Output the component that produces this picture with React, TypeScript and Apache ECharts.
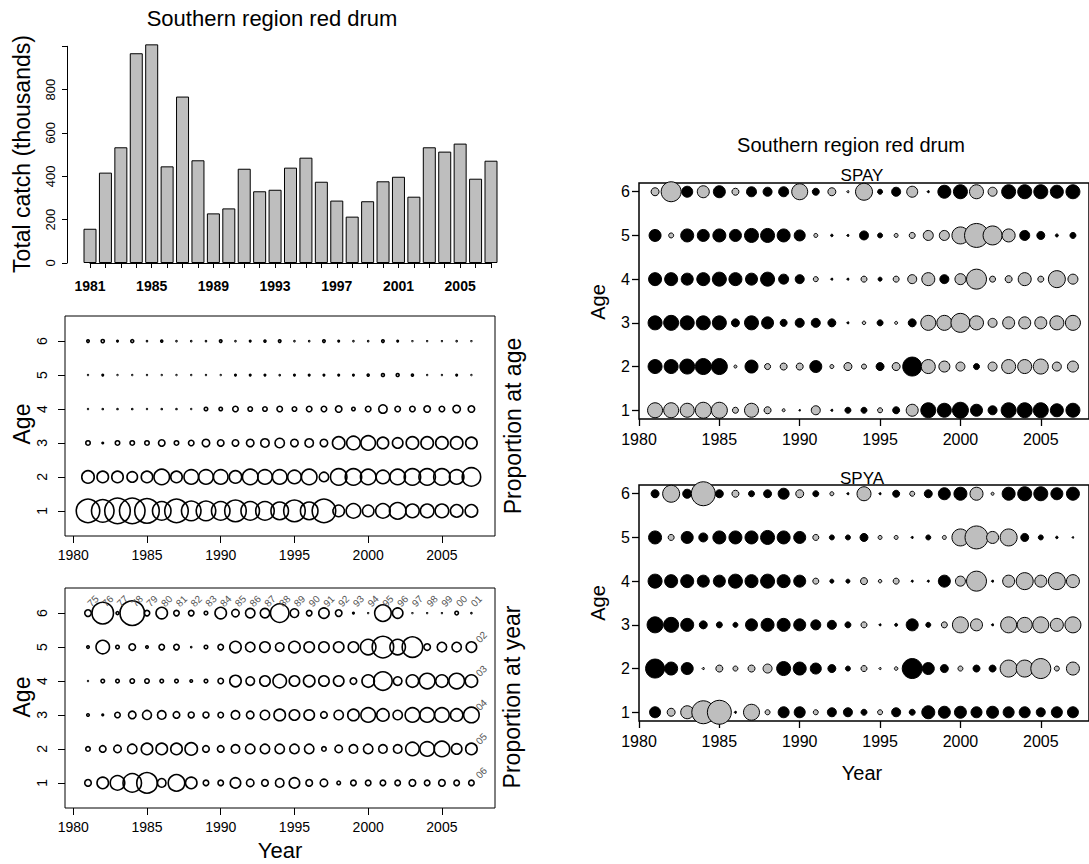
import React, { useEffect, useRef } from "react";
import * as echarts from "echarts";

const FONT = '"Liberation Sans", Arial, Helvetica, sans-serif';

const years = [1981, 1982, 1983, 1984, 1985, 1986, 1987, 1988, 1989, 1990, 1991, 1992, 1993, 1994, 1995, 1996, 1997, 1998, 1999, 2000, 2001, 2002, 2003, 2004, 2005, 2006, 2007];
const ages = [1, 2, 3, 4, 5, 6];

// Total catch (thousands)
const totalCatch = [158, 417, 534, 968, 1009, 446, 768, 474, 229, 252, 435, 331, 338, 440, 486, 375, 288, 214, 285, 377, 398, 306, 534, 514, 551, 389, 472];
const barLabelYears = [1981, 1985, 1989, 1993, 1997, 2001, 2005];
const catchTicks = [0, 200, 400, 600, 800];

// Proportion at age (rows sum across ages within a year)
const paaAge1 = [0.694, 0.64, 0.81, 0.81, 0.751, 0.444, 0.694, 0.49, 0.49, 0.444, 0.588, 0.444, 0.444, 0.401, 0.588, 0.401, 0.694, 0.188, 0.284, 0.188, 0.284, 0.36, 0.25, 0.25, 0.25, 0.218, 0.218];
const paaAge2 = [0.218, 0.188, 0.188, 0.16, 0.188, 0.321, 0.188, 0.284, 0.284, 0.284, 0.218, 0.321, 0.284, 0.284, 0.25, 0.321, 0.134, 0.36, 0.36, 0.321, 0.25, 0.321, 0.36, 0.36, 0.36, 0.284, 0.444];
const paaAge3 = [0.04, 0.01, 0.04, 0.04, 0.04, 0.071, 0.04, 0.054, 0.09, 0.071, 0.071, 0.09, 0.111, 0.134, 0.09, 0.111, 0.09, 0.218, 0.25, 0.284, 0.188, 0.16, 0.218, 0.218, 0.218, 0.218, 0.188];
const paaAge4 = [0.0025, 0.007, 0.007, 0.007, 0.004, 0.007, 0.007, 0.004, 0.028, 0.028, 0.054, 0.04, 0.04, 0.054, 0.04, 0.054, 0.054, 0.071, 0.028, 0.054, 0.111, 0.054, 0.054, 0.071, 0.054, 0.09, 0.071];
const paaAge5 = [0.004, 0.01, 0.004, 0.004, 0.004, 0.004, 0.004, 0.004, 0.004, 0.004, 0.01, 0.01, 0.01, 0.007, 0.01, 0.01, 0.01, 0.01, 0.01, 0.014, 0.022, 0.022, 0.014, 0.004, 0.004, 0.01, 0.004];
const paaAge6 = [0.018, 0.025, 0.01, 0.022, 0.007, 0.014, 0.007, 0.007, 0.007, 0.018, 0.007, 0.01, 0.014, 0.018, 0.007, 0.007, 0.018, 0.01, 0.007, 0.007, 0.018, 0.01, 0.004, 0.004, 0.004, 0.007, 0.004];

// Proportion at year (rows sum across years within an age)
const payAge1 = [0.02, 0.052, 0.079, 0.123, 0.149, 0.031, 0.1, 0.052, 0.015, 0.015, 0.044, 0.025, 0.02, 0.031, 0.044, 0.02, 0.025, 0.008, 0.015, 0.015, 0.015, 0.015, 0.02, 0.015, 0.02, 0.015, 0.015];
const payAge2 = [0.011, 0.02, 0.025, 0.037, 0.052, 0.052, 0.052, 0.06, 0.02, 0.02, 0.031, 0.037, 0.037, 0.037, 0.037, 0.037, 0.011, 0.025, 0.031, 0.037, 0.031, 0.031, 0.069, 0.079, 0.089, 0.044, 0.052];
const payAge3 = [0.005, 0.003, 0.015, 0.025, 0.034, 0.031, 0.02, 0.017, 0.017, 0.015, 0.031, 0.025, 0.037, 0.052, 0.044, 0.044, 0.02, 0.037, 0.052, 0.079, 0.06, 0.037, 0.079, 0.079, 0.079, 0.06, 0.089];
const payAge4 = [0.001, 0.008, 0.008, 0.011, 0.011, 0.008, 0.008, 0.005, 0.008, 0.015, 0.052, 0.031, 0.044, 0.069, 0.044, 0.052, 0.044, 0.044, 0.02, 0.06, 0.123, 0.031, 0.06, 0.089, 0.06, 0.089, 0.06];
const payAge5 = [0.005, 0.069, 0.008, 0.02, 0.005, 0.015, 0.015, 0.002, 0.008, 0.015, 0.052, 0.037, 0.044, 0.031, 0.052, 0.044, 0.044, 0.044, 0.044, 0.089, 0.163, 0.089, 0.149, 0.02, 0.037, 0.037, 0.044];
const payAge6 = [0.02, 0.163, 0.006, 0.208, 0.015, 0.052, 0.015, 0.015, 0.008, 0.052, 0.025, 0.037, 0.037, 0.123, 0.031, 0.015, 0.044, 0.02, 0.003, 0.001, 0.1, 0.044, 0.001, 0.001, 0.001, 0.008, 0.002];

// Cohort labels
const cohortTop = ["75", "76", "77", "78", "79", "80", "81", "82", "83", "84", "85", "86", "87", "88", "89", "90", "91", "92", "93", "94", "95", "96", "97", "98", "99", "00", "01"];
const cohortRight = ["06", "05", "04", "03", "02"]; // ages 1..5 in 2007

// Standardized residuals (positive = black, negative = grey)
const spayAge1 = [-3.2, -3.2, -3.0, -3.4, -3.4, -1.4, -3.0, -1.6, -0.8, 0.5, -2.0, 0.6, 1.4, 1.4, -1.2, 1.6, -2.6, 3.2, 3.0, 3.4, 2.6, 2.0, 3.2, 3.2, 3.2, 2.8, 3.0];
const spayAge2 = [3.0, 3.0, 3.2, 3.4, 3.4, -0.8, 2.8, -1.4, -1.6, -1.6, 2.6, -1.0, -1.8, -1.2, 1.8, -1.8, 4.0, -3.0, -2.4, -2.0, 1.4, -2.0, -3.0, -3.0, -3.2, -2.0, -2.4];
const spayAge3 = [3.0, 3.2, 3.0, 3.0, 3.0, 1.8, 3.0, 2.6, 1.6, 2.0, 2.0, 1.8, 0.6, -0.9, 1.4, -0.8, 1.8, -3.2, -3.2, -4.0, -3.0, -2.0, -2.6, -2.6, -2.6, -3.0, -3.2];
const spayAge4 = [2.8, 2.8, 2.6, 2.8, 3.0, 2.8, 2.6, 3.0, 2.2, 2.0, -1.2, 0.6, 0.6, -1.4, 1.0, -1.4, -2.0, -2.8, 2.0, -2.4, -4.2, -1.4, -1.6, -2.8, -1.4, -3.6, -2.2];
const spayAge5 = [2.6, -1.2, 2.8, 2.6, 2.8, 2.6, 3.0, 3.0, 2.8, 2.4, -1.0, 0.7, 0.6, 2.0, 1.2, -1.0, -1.4, -2.2, -2.2, -3.6, -5.0, -4.0, -2.8, 2.2, 1.8, 0.8, 1.4];
const spayAge6 = [-1.8, -4.2, 2.4, -2.6, 2.6, -1.6, 2.2, 2.0, 2.2, -3.4, 1.6, -1.8, -0.6, -3.6, 1.2, 2.0, -2.4, 0.6, 2.8, 3.0, -3.0, -2.0, 3.0, 3.0, 3.0, 2.8, 3.0];

const spyaAge1 = [2.4, -1.8, -2.8, -4.8, -5.0, 0.6, -3.4, -1.2, 2.4, 2.4, -1.2, 2.0, 2.0, 1.4, -1.2, 2.0, 1.4, 2.8, 2.6, 2.6, 2.4, 2.6, 2.4, 2.4, 2.0, 2.4, 2.4];
const spyaAge2 = [4.0, 2.8, 2.6, -0.6, -1.6, -1.2, -1.6, -2.0, 3.0, 2.8, 2.4, 1.8, 1.2, -1.4, -0.6, -0.9, 4.2, 2.6, 1.8, -1.2, 1.6, 1.6, -3.6, -3.6, -4.2, -1.2, -2.8];
const spyaAge3 = [3.4, 3.2, 2.8, 1.8, 1.4, 1.2, 2.6, 2.8, 2.8, 2.6, 2.2, 2.0, 1.4, -1.4, 0.6, 0.8, 2.6, 1.2, -1.4, -3.4, -2.6, 0.6, -3.4, -3.2, -3.4, -2.8, -3.4];
const spyaAge4 = [3.0, 2.8, 2.8, 2.6, 2.6, 3.0, 2.8, 3.0, 2.8, 2.6, -1.4, 1.0, 1.0, -1.6, -0.9, -1.4, 0.6, 0.6, 2.6, -2.2, -4.2, 0.6, -2.6, -3.6, -2.6, -3.6, -2.8];
const spyaAge5 = [2.8, -1.4, 2.6, 2.0, 2.8, 2.8, 2.8, 3.0, 2.8, 2.6, -1.4, 1.2, 1.2, 1.8, -1.0, -1.0, 0.6, 1.2, -1.0, -3.6, -4.8, -2.6, -3.6, 1.8, 1.2, 0.7, 0.5];
const spyaAge6 = [1.8, -3.6, 2.0, -5.0, 1.8, -1.6, 1.4, 1.8, 2.4, -1.8, 1.4, -1.0, 0.6, -3.0, 0.6, 1.6, -1.2, 1.8, 2.6, 2.8, -2.8, -0.8, 2.8, 3.0, 3.0, 2.6, 2.8];

const axisYearTicks = [1980, 1985, 1990, 1995, 2000, 2005];

const paaRows = [paaAge1, paaAge2, paaAge3, paaAge4, paaAge5, paaAge6];
const payRows = [payAge1, payAge2, payAge3, payAge4, payAge5, payAge6];
const spayRows = [spayAge1, spayAge2, spayAge3, spayAge4, spayAge5, spayAge6];
const spyaRows = [spyaAge1, spyaAge2, spyaAge3, spyaAge4, spyaAge5, spyaAge6];

function propData(rows: number[][]) {
  const out: number[][] = [];
  rows.forEach((row, ai) => row.forEach((p, yi) => out.push([years[yi], ages[ai], p])));
  return out;
}
function residData(rows: number[][]) {
  const out: any[] = [];
  years.forEach((y, yi) =>
    rows.forEach((row, ai) => {
      const v = row[yi];
      out.push({
        value: [y, ages[ai], v],
        itemStyle: { color: v > 0 ? "#000000" : "#bebebe", borderColor: "#000000", borderWidth: 1, opacity: 1 },
      });
    })
  );
  return out;
}

const txt = "#000";
const plain = (v: number) => String(v);

function leftXAxis(gridIndex: number) {
  return {
    gridIndex, type: "value", min: 1979.44, max: 2008.6,
    axisLine: { show: false },
    axisTick: { show: true, customValues: axisYearTicks, length: 7, lineStyle: { color: "#000" } },
    axisLabel: { customValues: axisYearTicks, formatter: plain, fontSize: 14, fontFamily: FONT, color: txt, margin: 12 },
    splitLine: { show: false },
  };
}
function leftYAxis(gridIndex: number) {
  return {
    gridIndex, type: "value", min: 0.26, max: 6.74,
    axisLine: { show: false },
    axisTick: { show: true, customValues: ages, length: 7, lineStyle: { color: "#000" } },
    axisLabel: { customValues: ages, formatter: plain, rotate: 90, fontSize: 14, fontFamily: FONT, color: txt, margin: 16 },
    splitLine: { show: false },
  };
}
function rightXAxis(gridIndex: number) {
  return {
    gridIndex, type: "value", min: 1980, max: 2008,
    axisLine: { show: false },
    axisTick: { show: true, customValues: axisYearTicks, length: 7, lineStyle: { color: "#000", width: 1.3 } },
    axisLabel: { customValues: axisYearTicks, formatter: plain, fontSize: 16, fontFamily: FONT, color: txt, margin: 12 },
    splitLine: { show: false },
  };
}
function rightYAxis(gridIndex: number) {
  return {
    gridIndex, type: "value", min: 0.8, max: 6.2,
    axisLine: { show: false },
    axisTick: { show: true, customValues: ages, length: 7, lineStyle: { color: "#000", width: 1.3 } },
    axisLabel: { customValues: ages, formatter: plain, fontSize: 16, fontFamily: FONT, color: txt, margin: 9 },
    splitLine: { show: false },
  };
}

function textEl(text: string, x: number, y: number, size: number, rotate = 0) {
  return {
    type: "text", x, y, rotation: rotate,
    style: { text, font: `${size}px ${FONT}`, fill: "#000", textAlign: "center", textVerticalAlign: "middle" },
  };
}

const cohortLabelStyle = {
  show: true, formatter: "{b}", fontSize: 10, fontFamily: FONT, color: "#555555",
  textBorderWidth: 0, textBorderColor: "rgba(0,0,0,0)", textShadowBlur: 0, opacity: 1,
  align: "center", verticalAlign: "middle", rotate: 45,
};

export default function App() {
  const ref = useRef<HTMLDivElement>(null);
  useEffect(() => {
    document.body.style.margin = "0";
    if (!ref.current) return;
    const chart = echarts.init(ref.current, null, { renderer: "svg" });

    const openCircle = { color: "rgba(0,0,0,0)", borderColor: "#000", borderWidth: 1.6, opacity: 1 };

    const option: any = {
      animation: false,
      backgroundColor: "#ffffff",
      grid: [
        { left: 90, right: 598, top: 46.3, bottom: 601 },
        { left: 65, right: 594, top: 316, bottom: 328, show: true, borderColor: "#000", borderWidth: 1 },
        { left: 65, right: 594, top: 588, bottom: 56, show: true, borderColor: "#000", borderWidth: 1 },
        { left: 639, right: -4, top: 183, bottom: 445, show: true, borderColor: "#000", borderWidth: 1.5 },
        { left: 639, right: -4, top: 485, bottom: 143, show: true, borderColor: "#000", borderWidth: 1.5 },
      ],
      xAxis: [
        {
          gridIndex: 0, type: "value", min: 1981, max: 2007, interval: 1, offset: 3,
          axisLine: { show: true, lineStyle: { color: "#000", width: 1 } },
          axisTick: { show: true, length: 5, lineStyle: { color: "#000" } },
          axisLabel: {
            formatter: (v: number) => (barLabelYears.indexOf(v) >= 0 ? String(v) : ""),
            fontSize: 14, fontWeight: "bold", fontFamily: FONT, color: txt, margin: 13,
          },
          splitLine: { show: false },
        },
        leftXAxis(1), leftXAxis(2), rightXAxis(3), rightXAxis(4),
      ],
      yAxis: [
        {
          gridIndex: 0, type: "value", min: 0, max: 1000, interval: 200, offset: 23,
          axisLine: { show: true, lineStyle: { color: "#000", width: 1 } },
          axisTick: { show: true, length: 5, lineStyle: { color: "#000" } },
          axisLabel: {
            formatter: (v: number) => (catchTicks.indexOf(v) >= 0 ? String(v) : ""),
            rotate: 90, fontSize: 13, fontFamily: FONT, color: txt, margin: 10,
          },
          splitLine: { show: false },
        },
        leftYAxis(1), leftYAxis(2), rightYAxis(3), rightYAxis(4),
      ],
      series: [
        {
          type: "bar", xAxisIndex: 0, yAxisIndex: 0, clip: false, barWidth: 13,
          data: years.map((y, i) => [y, totalCatch[i]]),
          itemStyle: { color: "#bebebe", borderColor: "#000", borderWidth: 1 },
        },
        {
          type: "scatter", xAxisIndex: 1, yAxisIndex: 1, clip: false,
          data: propData(paaRows),
          symbolSize: (v: number[]) => Math.max(30 * Math.sqrt(v[2]) - 1.5, 0.8),
          itemStyle: openCircle,
        },
        {
          type: "scatter", xAxisIndex: 2, yAxisIndex: 2, clip: false,
          data: propData(payRows),
          symbolSize: (v: number[]) => Math.max(57 * Math.sqrt(v[2]) - 1.5, 0.8),
          itemStyle: openCircle,
        },
        {
          type: "scatter", xAxisIndex: 2, yAxisIndex: 2, clip: false, silent: true,
          symbolSize: 0.1, itemStyle: { color: "rgba(0,0,0,0)", opacity: 1 },
          data: years.map((y, i) => ({ value: [y, 6], name: cohortTop[i] })),
          label: { ...cohortLabelStyle, position: [5, -12] },
        },
        {
          type: "scatter", xAxisIndex: 2, yAxisIndex: 2, clip: false, silent: true,
          symbolSize: 0.1, itemStyle: { color: "rgba(0,0,0,0)", opacity: 1 },
          data: cohortRight.map((c, i) => ({ value: [years[years.length - 1], ages[i]], name: c })),
          label: { ...cohortLabelStyle, position: [10, -10] },
        },
        {
          type: "scatter", xAxisIndex: 3, yAxisIndex: 3, clip: false,
          data: residData(spayRows),
          symbolSize: (v: number[]) => Math.max(5 * Math.abs(v[2]) - 1, 1.5),
        },
        {
          type: "scatter", xAxisIndex: 4, yAxisIndex: 4, clip: false,
          data: residData(spyaRows),
          symbolSize: (v: number[]) => Math.max(5 * Math.abs(v[2]) - 1, 1.5),
        },
      ],
      graphic: [
        textEl("Southern region red drum", 272, 18, 22),
        textEl("Total catch (thousands)", 22, 154, 23, Math.PI / 2),
        textEl("Age", 22, 424, 23, Math.PI / 2),
        textEl("Proportion at age", 513, 426, 23, Math.PI / 2),
        textEl("Age", 22, 697, 23, Math.PI / 2),
        textEl("Proportion at year", 512, 697, 23, Math.PI / 2),
        textEl("Year", 280, 850, 22),
        textEl("Southern region red drum", 851, 145, 20),
        textEl("SPAY", 862, 175, 17),
        textEl("Age", 598, 302, 20, Math.PI / 2),
        textEl("SPYA", 862, 478, 17),
        textEl("Age", 598, 603, 20, Math.PI / 2),
        textEl("Year", 862, 773, 20),
      ],
    };
    chart.setOption(option);
    return () => chart.dispose();
  }, []);
  return <div ref={ref} style={{ width: 1089, height: 864 }} />;
}
